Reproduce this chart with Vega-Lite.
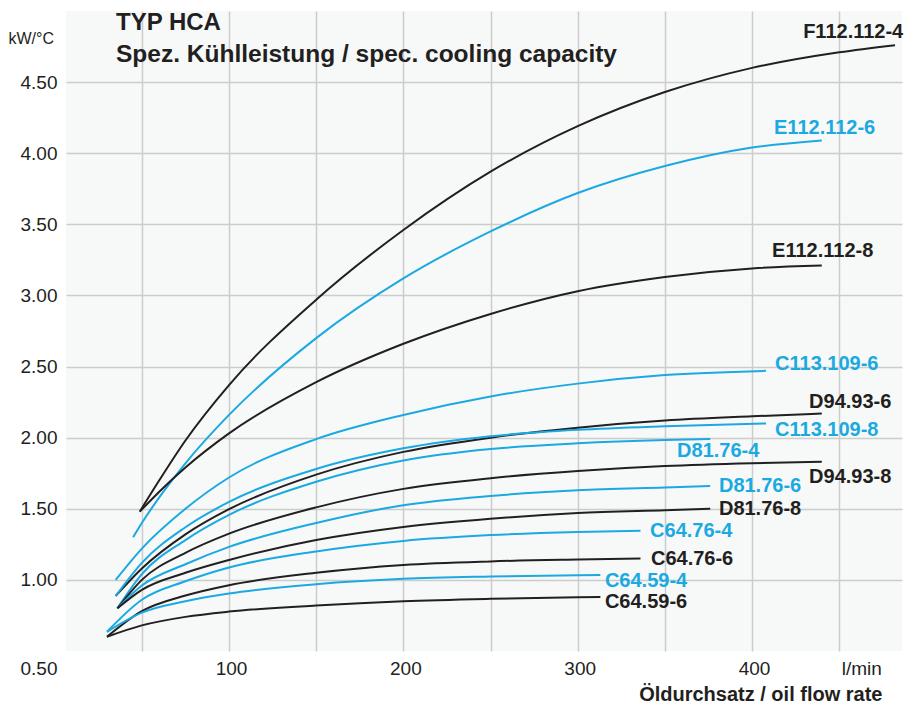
{
  "$schema": "https://vega.github.io/schema/vega-lite/v6.json",
  "width": 836,
  "height": 640,
  "autosize": {"type": "none"},
  "padding": {"left": 66, "top": 11, "right": 3, "bottom": 55},
  "background": "white",
  "title": {
    "text": "TYP HCA",
    "subtitle": "Spez. Kühlleistung / spec. cooling capacity",
    "anchor": "start",
    "frame": "group",
    "dx": 50,
    "offset": -55,
    "font": "Liberation Sans",
    "fontSize": 24,
    "fontWeight": "bold",
    "color": "#231f20",
    "subtitleFont": "Liberation Sans",
    "subtitleFontSize": 24.5,
    "subtitleFontWeight": "bold",
    "subtitleColor": "#231f20",
    "subtitlePadding": 8
  },
  "config": {
    "view": {"stroke": null, "fill": "#f7f9f9"},
    "font": "Liberation Sans"
  },
  "datasets": {
    "curves": [
      {"series": "F112.112-4", "x": 48.8, "y": 1.48},
      {"series": "F112.112-4", "x": 60, "y": 1.70},
      {"series": "F112.112-4", "x": 75, "y": 1.98},
      {"series": "F112.112-4", "x": 100, "y": 2.37},
      {"series": "F112.112-4", "x": 150, "y": 2.97},
      {"series": "F112.112-4", "x": 200, "y": 3.46},
      {"series": "F112.112-4", "x": 250, "y": 3.87},
      {"series": "F112.112-4", "x": 300, "y": 4.19},
      {"series": "F112.112-4", "x": 350, "y": 4.43},
      {"series": "F112.112-4", "x": 400, "y": 4.60},
      {"series": "F112.112-4", "x": 450, "y": 4.71},
      {"series": "F112.112-4", "x": 482, "y": 4.76},

      {"series": "E112.112-6", "x": 45, "y": 1.30},
      {"series": "E112.112-6", "x": 50, "y": 1.40},
      {"series": "E112.112-6", "x": 60, "y": 1.58},
      {"series": "E112.112-6", "x": 75, "y": 1.82},
      {"series": "E112.112-6", "x": 100, "y": 2.16},
      {"series": "E112.112-6", "x": 150, "y": 2.70},
      {"series": "E112.112-6", "x": 200, "y": 3.12},
      {"series": "E112.112-6", "x": 250, "y": 3.45},
      {"series": "E112.112-6", "x": 300, "y": 3.72},
      {"series": "E112.112-6", "x": 350, "y": 3.91},
      {"series": "E112.112-6", "x": 400, "y": 4.04},
      {"series": "E112.112-6", "x": 440, "y": 4.09},

      {"series": "E112.112-8", "x": 48.8, "y": 1.48},
      {"series": "E112.112-8", "x": 60, "y": 1.62},
      {"series": "E112.112-8", "x": 75, "y": 1.79},
      {"series": "E112.112-8", "x": 100, "y": 2.03},
      {"series": "E112.112-8", "x": 150, "y": 2.39},
      {"series": "E112.112-8", "x": 200, "y": 2.66},
      {"series": "E112.112-8", "x": 250, "y": 2.87},
      {"series": "E112.112-8", "x": 300, "y": 3.03},
      {"series": "E112.112-8", "x": 350, "y": 3.13},
      {"series": "E112.112-8", "x": 400, "y": 3.19},
      {"series": "E112.112-8", "x": 440, "y": 3.21},

      {"series": "C113.109-6", "x": 35, "y": 1.00},
      {"series": "C113.109-6", "x": 50, "y": 1.22},
      {"series": "C113.109-6", "x": 75, "y": 1.50},
      {"series": "C113.109-6", "x": 100, "y": 1.72},
      {"series": "C113.109-6", "x": 150, "y": 1.99},
      {"series": "C113.109-6", "x": 200, "y": 2.16},
      {"series": "C113.109-6", "x": 250, "y": 2.29},
      {"series": "C113.109-6", "x": 300, "y": 2.38},
      {"series": "C113.109-6", "x": 350, "y": 2.44},
      {"series": "C113.109-6", "x": 408, "y": 2.47},

      {"series": "D94.93-6", "x": 35, "y": 0.887},
      {"series": "D94.93-6", "x": 50, "y": 1.08},
      {"series": "D94.93-6", "x": 75, "y": 1.32},
      {"series": "D94.93-6", "x": 100, "y": 1.497},
      {"series": "D94.93-6", "x": 150, "y": 1.74},
      {"series": "D94.93-6", "x": 200, "y": 1.90},
      {"series": "D94.93-6", "x": 250, "y": 2.00},
      {"series": "D94.93-6", "x": 300, "y": 2.07},
      {"series": "D94.93-6", "x": 350, "y": 2.12},
      {"series": "D94.93-6", "x": 400, "y": 2.15},
      {"series": "D94.93-6", "x": 440, "y": 2.17},

      {"series": "C113.109-8", "x": 35, "y": 0.887},
      {"series": "C113.109-8", "x": 50, "y": 1.12},
      {"series": "C113.109-8", "x": 75, "y": 1.37},
      {"series": "C113.109-8", "x": 100, "y": 1.548},
      {"series": "C113.109-8", "x": 150, "y": 1.78},
      {"series": "C113.109-8", "x": 200, "y": 1.925},
      {"series": "C113.109-8", "x": 250, "y": 2.01},
      {"series": "C113.109-8", "x": 300, "y": 2.055},
      {"series": "C113.109-8", "x": 350, "y": 2.08},
      {"series": "C113.109-8", "x": 408, "y": 2.10},

      {"series": "D81.76-4", "x": 36, "y": 0.80},
      {"series": "D81.76-4", "x": 50, "y": 1.04},
      {"series": "D81.76-4", "x": 75, "y": 1.28},
      {"series": "D81.76-4", "x": 100, "y": 1.457},
      {"series": "D81.76-4", "x": 150, "y": 1.69},
      {"series": "D81.76-4", "x": 200, "y": 1.84},
      {"series": "D81.76-4", "x": 250, "y": 1.92},
      {"series": "D81.76-4", "x": 300, "y": 1.96},
      {"series": "D81.76-4", "x": 350, "y": 1.983},
      {"series": "D81.76-4", "x": 376, "y": 1.99},

      {"series": "D94.93-8", "x": 36, "y": 0.80},
      {"series": "D94.93-8", "x": 50, "y": 1.00},
      {"series": "D94.93-8", "x": 75, "y": 1.19},
      {"series": "D94.93-8", "x": 100, "y": 1.325},
      {"series": "D94.93-8", "x": 150, "y": 1.51},
      {"series": "D94.93-8", "x": 200, "y": 1.64},
      {"series": "D94.93-8", "x": 250, "y": 1.715},
      {"series": "D94.93-8", "x": 300, "y": 1.765},
      {"series": "D94.93-8", "x": 350, "y": 1.80},
      {"series": "D94.93-8", "x": 400, "y": 1.82},
      {"series": "D94.93-8", "x": 440, "y": 1.83},

      {"series": "D81.76-6", "x": 36, "y": 0.80},
      {"series": "D81.76-6", "x": 50, "y": 0.96},
      {"series": "D81.76-6", "x": 75, "y": 1.11},
      {"series": "D81.76-6", "x": 100, "y": 1.232},
      {"series": "D81.76-6", "x": 150, "y": 1.40},
      {"series": "D81.76-6", "x": 200, "y": 1.525},
      {"series": "D81.76-6", "x": 250, "y": 1.59},
      {"series": "D81.76-6", "x": 300, "y": 1.63},
      {"series": "D81.76-6", "x": 350, "y": 1.65},
      {"series": "D81.76-6", "x": 376, "y": 1.66},

      {"series": "D81.76-8", "x": 36, "y": 0.80},
      {"series": "D81.76-8", "x": 50, "y": 0.93},
      {"series": "D81.76-8", "x": 75, "y": 1.05},
      {"series": "D81.76-8", "x": 100, "y": 1.14},
      {"series": "D81.76-8", "x": 150, "y": 1.28},
      {"series": "D81.76-8", "x": 200, "y": 1.372},
      {"series": "D81.76-8", "x": 250, "y": 1.43},
      {"series": "D81.76-8", "x": 300, "y": 1.47},
      {"series": "D81.76-8", "x": 350, "y": 1.49},
      {"series": "D81.76-8", "x": 376, "y": 1.50},

      {"series": "C64.76-4", "x": 30, "y": 0.635},
      {"series": "C64.76-4", "x": 50, "y": 0.86},
      {"series": "C64.76-4", "x": 75, "y": 0.99},
      {"series": "C64.76-4", "x": 100, "y": 1.087},
      {"series": "C64.76-4", "x": 150, "y": 1.20},
      {"series": "C64.76-4", "x": 200, "y": 1.274},
      {"series": "C64.76-4", "x": 250, "y": 1.315},
      {"series": "C64.76-4", "x": 300, "y": 1.337},
      {"series": "C64.76-4", "x": 336, "y": 1.345},

      {"series": "C64.76-6", "x": 30, "y": 0.60},
      {"series": "C64.76-6", "x": 50, "y": 0.78},
      {"series": "C64.76-6", "x": 75, "y": 0.89},
      {"series": "C64.76-6", "x": 100, "y": 0.963},
      {"series": "C64.76-6", "x": 150, "y": 1.05},
      {"series": "C64.76-6", "x": 200, "y": 1.105},
      {"series": "C64.76-6", "x": 250, "y": 1.13},
      {"series": "C64.76-6", "x": 300, "y": 1.143},
      {"series": "C64.76-6", "x": 336, "y": 1.15},

      {"series": "C64.59-4", "x": 30, "y": 0.635},
      {"series": "C64.59-4", "x": 50, "y": 0.77},
      {"series": "C64.59-4", "x": 75, "y": 0.85},
      {"series": "C64.59-4", "x": 100, "y": 0.904},
      {"series": "C64.59-4", "x": 150, "y": 0.97},
      {"series": "C64.59-4", "x": 200, "y": 1.008},
      {"series": "C64.59-4", "x": 250, "y": 1.024},
      {"series": "C64.59-4", "x": 300, "y": 1.033},
      {"series": "C64.59-4", "x": 313, "y": 1.035},

      {"series": "C64.59-6", "x": 30, "y": 0.60},
      {"series": "C64.59-6", "x": 50, "y": 0.68},
      {"series": "C64.59-6", "x": 75, "y": 0.74},
      {"series": "C64.59-6", "x": 100, "y": 0.777},
      {"series": "C64.59-6", "x": 150, "y": 0.82},
      {"series": "C64.59-6", "x": 200, "y": 0.85},
      {"series": "C64.59-6", "x": 250, "y": 0.867},
      {"series": "C64.59-6", "x": 300, "y": 0.878},
      {"series": "C64.59-6", "x": 313, "y": 0.88}
    ],
    "labels": [
      {"series": "F112.112-4", "x": 429.3, "y": 4.851},
      {"series": "E112.112-6", "x": 412.6, "y": 4.177},
      {"series": "E112.112-8", "x": 411.5, "y": 3.312},
      {"series": "C113.109-6", "x": 413.2, "y": 2.518},
      {"series": "D94.93-6", "x": 432.7, "y": 2.251},
      {"series": "C113.109-8", "x": 413.2, "y": 2.054},
      {"series": "D81.76-4", "x": 357, "y": 1.907},
      {"series": "D94.93-8", "x": 432.7, "y": 1.724},
      {"series": "D81.76-6", "x": 381, "y": 1.661},
      {"series": "D81.76-8", "x": 381, "y": 1.499},
      {"series": "C64.76-4", "x": 341.5, "y": 1.344},
      {"series": "C64.76-6", "x": 342, "y": 1.148},
      {"series": "C64.59-4", "x": 315.6, "y": 0.993},
      {"series": "C64.59-6", "x": 315.6, "y": 0.845}
    ]
  },
  "encoding": {
    "x": {
      "field": "x",
      "type": "quantitative",
      "scale": {"domain": [6.5, 486], "nice": false, "zero": false},
      "axis": {
        "values": [50, 100, 150, 200, 250, 300, 350, 400, 450],
        "labelExpr": "datum.value == 450 ? 'l/min' : (datum.value % 100 == 0 ? datum.label : '')",
        "labelAlign": {"condition": {"test": "datum.value == 450", "value": "left"}, "value": "center"},
        "labelFont": "Liberation Sans",
        "labelFontSize": 19,
        "labelColor": "#231f20",
        "labelPadding": 8,
        "labelOffset": 2,
        "ticks": false,
        "domain": false,
        "grid": true,
        "gridColor": "#cccccc",
        "gridWidth": 1.5,
        "title": "Öldurchsatz / oil flow rate",
        "titleFont": "Liberation Sans",
        "titleFontSize": 20,
        "titleFontWeight": "bold",
        "titleColor": "#231f20",
        "titleAnchor": "end",
        "titleAlign": "right",
        "titleBaseline": "alphabetic",
        "titleX": 816,
        "titleY": 49
      }
    },
    "y": {
      "field": "y",
      "type": "quantitative",
      "scale": {"domain": [0.5, 5.0], "nice": false, "zero": false},
      "axis": {
        "values": [0.5, 1, 1.5, 2, 2.5, 3, 3.5, 4, 4.5],
        "format": ".2f",
        "labelFont": "Liberation Sans",
        "labelFontSize": 19,
        "labelColor": "#231f20",
        "labelPadding": 9,
        "labelOffset": {"condition": {"test": "datum.value == 0.5", "value": 17}, "value": 0},
        "ticks": false,
        "domain": false,
        "grid": true,
        "gridColor": "#cccccc",
        "gridWidth": 1.5,
        "gridOpacity": {"condition": {"test": "datum.value == 0.5", "value": 0}, "value": 1},
        "title": "kW/°C",
        "titleFont": "Liberation Sans",
        "titleFontSize": 16,
        "titleFontWeight": "normal",
        "titleColor": "#231f20",
        "titleAngle": 0,
        "titleAlign": "left",
        "titleBaseline": "middle",
        "titleX": -58,
        "titleY": 27
      }
    },
    "color": {
      "field": "series",
      "type": "nominal",
      "legend": null,
      "scale": {
        "domain": ["F112.112-4", "E112.112-6", "E112.112-8", "C113.109-6", "D94.93-6", "C113.109-8", "D81.76-4", "D94.93-8", "D81.76-6", "D81.76-8", "C64.76-4", "C64.76-6", "C64.59-4", "C64.59-6"],
        "range": ["#231f20", "#1ba9e1", "#231f20", "#1ba9e1", "#231f20", "#1ba9e1", "#1ba9e1", "#231f20", "#1ba9e1", "#231f20", "#1ba9e1", "#231f20", "#1ba9e1", "#231f20"]
      }
    }
  },
  "layer": [
    {
      "data": {"name": "curves"},
      "mark": {"type": "line", "interpolate": "monotone", "strokeWidth": 2, "clip": true},
      "encoding": {"detail": {"field": "series"}}
    },
    {
      "data": {"name": "labels"},
      "mark": {"type": "text", "align": "left", "baseline": "middle", "font": "Liberation Sans", "fontSize": 20, "fontWeight": "bold"},
      "encoding": {"text": {"field": "series"}}
    }
  ]
}
